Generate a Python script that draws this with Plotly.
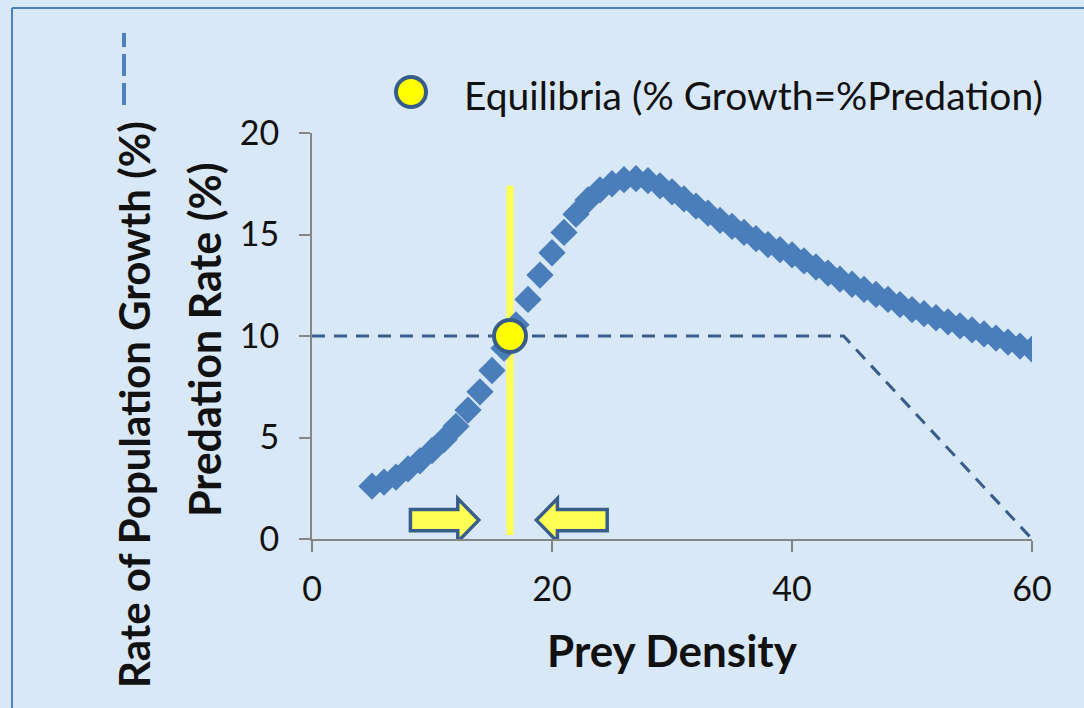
import plotly.graph_objects as go

# Predation curve (prey density vs. predation rate, %)
prey_density = list(range(5, 61))
predation_rate = [
    2.6, 2.8, 3.05, 3.45, 3.85, 4.35, 4.9, 5.55, 6.35, 7.25,
    8.3, 9.4, 10.55, 11.8, 13.0, 14.1, 15.1, 16.0, 16.7, 17.2,
    17.5, 17.7, 17.75, 17.65, 17.4, 17.1, 16.75, 16.4, 16.05, 15.7,
    15.4, 15.1, 14.8, 14.5, 14.25, 14.0, 13.7, 13.4, 13.1, 12.8,
    12.55, 12.3, 12.05, 11.8, 11.55, 11.3, 11.1, 10.9, 10.7, 10.5,
    10.3, 10.1, 9.9, 9.7, 9.5, 9.35,
]

# Population growth rate (%): flat, then declining to zero
growth_density = [0, 44.3, 60]
growth_rate = [10, 10, 0]

# Equilibrium where growth equals predation
equilibrium_density = [16.5]
equilibrium_rate = [10]
equilibrium_line_span = [0.2, 17.4]

x_ticks = [0, 20, 40, 60]
y_ticks = [0, 5, 10, 15, 20]

BG = "#D9E8F6"
CURVE_BLUE = "#4A7EBB"
DARK_BLUE = "#385D8A"
KEY_BLUE = "#4F81BD"
YELLOW = "#FFFF55"
AXIS_GREY = "#868686"
FONT = "Lato"

fig = go.Figure()

# Equilibrium marker line
fig.add_trace(go.Scatter(
    x=[equilibrium_density[0], equilibrium_density[0]],
    y=equilibrium_line_span,
    mode="lines",
    line=dict(color=YELLOW, width=7),
    hoverinfo="skip",
    showlegend=False,
))

# Growth rate (dashed)
fig.add_trace(go.Scatter(
    x=growth_density, y=growth_rate,
    mode="lines",
    line=dict(color=DARK_BLUE, width=3, dash="13px,9px"),
    name="Rate of Population Growth (%)",
    showlegend=False,
))

# Predation rate (diamonds)
fig.add_trace(go.Scatter(
    x=prey_density, y=predation_rate,
    mode="markers",
    marker=dict(symbol="diamond", size=21, color=CURVE_BLUE,
                line=dict(width=0)),
    name="Predation Rate (%)",
    showlegend=False,
))

# Equilibrium point
fig.add_trace(go.Scatter(
    x=equilibrium_density, y=equilibrium_rate,
    mode="markers",
    marker=dict(symbol="circle", size=32, color="#FFFF00",
                line=dict(color=DARK_BLUE, width=4)),
    name="Equilibria (% Growth=%Predation)",
    showlegend=False,
    cliponaxis=False,
))

# Block arrows pointing toward the equilibrium
eq_x = equilibrium_density[0]
arrow_y = 0.93
body_h = 0.52
head_h = 1.06


def block_arrow(tail, tip, head_len):
    d = 1 if tip > tail else -1
    neck = tip - d * head_len
    pts = [
        (tail, arrow_y - body_h), (neck, arrow_y - body_h),
        (neck, arrow_y - head_h), (tip, arrow_y),
        (neck, arrow_y + head_h), (neck, arrow_y + body_h),
        (tail, arrow_y + body_h),
    ]
    return "M " + " L ".join(f"{x},{y}" for x, y in pts) + " Z"


shapes = [
    dict(type="path", xref="x", yref="y",
         path=block_arrow(eq_x - 8.3, eq_x - 2.6, 1.75),
         fillcolor=YELLOW, line=dict(color=DARK_BLUE, width=3.5)),
    dict(type="path", xref="x", yref="y",
         path=block_arrow(eq_x + 8.1, eq_x + 2.2, 1.75),
         fillcolor=YELLOW, line=dict(color=DARK_BLUE, width=3.5)),
]

# Plot area occupies x: 312..1032 px, y: 133..539 px
L, R, T, B = 312, 1032, 133, 539


def px_x(p):
    return (p - L) / (R - L)


def px_y(p):
    return (B - p) / (B - T)


# Chart frame (top and left edges fall inside the page)
shapes.append(dict(type="line", xref="paper", yref="paper",
                   x0=px_x(12), x1=px_x(1084), y0=px_y(8), y1=px_y(8),
                   line=dict(color=KEY_BLUE, width=2), layer="below"))
shapes.append(dict(type="line", xref="paper", yref="paper",
                   x0=px_x(12), x1=px_x(12), y0=px_y(8), y1=px_y(708),
                   line=dict(color=KEY_BLUE, width=2), layer="below"))

# Key for the growth-rate line next to its title
shapes.append(dict(type="line", xref="paper", yref="paper",
                   x0=px_x(124), x1=px_x(124), y0=px_y(105), y1=px_y(33),
                   line=dict(color=KEY_BLUE, width=4, dash="22px,7px")))

# Key for the equilibrium marker
shapes.append(dict(type="circle", xref="paper", yref="paper",
                   xsizemode="pixel", ysizemode="pixel",
                   xanchor=px_x(411), yanchor=px_y(92),
                   x0=-15, x1=15, y0=-15, y1=15,
                   fillcolor="#FFFF00", line=dict(color=DARK_BLUE, width=4)))

annotations = [
    dict(text="Equilibria (% Growth=%Predation)", xref="paper", yref="paper",
         x=px_x(462), y=px_y(95), xanchor="left", yanchor="middle",
         showarrow=False, font=dict(family=FONT, size=39, color="#111111")),
    dict(text="<b>Prey Density</b>", xref="paper", yref="paper",
         x=0.5, y=px_y(650), xanchor="center", yanchor="middle",
         showarrow=False, font=dict(family=FONT, size=44, color="#111111")),
    dict(text="<b>Predation Rate (%)</b>", xref="paper", yref="paper",
         x=px_x(204), y=0.49, xanchor="center", yanchor="middle", textangle=-90,
         showarrow=False, font=dict(family=FONT, size=43, color="#111111")),
    dict(text="<b>Rate of Population Growth (%)</b>", xref="paper", yref="paper",
         x=px_x(134), y=px_y(405), xanchor="center", yanchor="middle", textangle=-90,
         showarrow=False, font=dict(family=FONT, size=42, color="#111111")),
]

axis_common = dict(
    showgrid=False, zeroline=False,
    showline=True, linecolor=AXIS_GREY, linewidth=2,
    ticks="outside", ticklen=11, tickwidth=2, tickcolor=AXIS_GREY,
    tickfont=dict(family=FONT, size=34, color="#111111"),
)

fig.update_layout(
    width=1084, height=708,
    margin=dict(l=L, r=1084 - R, t=T, b=708 - B),
    paper_bgcolor=BG, plot_bgcolor=BG,
    xaxis=dict(range=[0, 60], tickvals=x_ticks, ticklabelstandoff=8, **axis_common),
    yaxis=dict(range=[0, 20], tickvals=y_ticks, ticklabelstandoff=13, **axis_common),
    shapes=shapes,
    annotations=annotations,
    showlegend=False,
)

fig.write_html("out.html")
